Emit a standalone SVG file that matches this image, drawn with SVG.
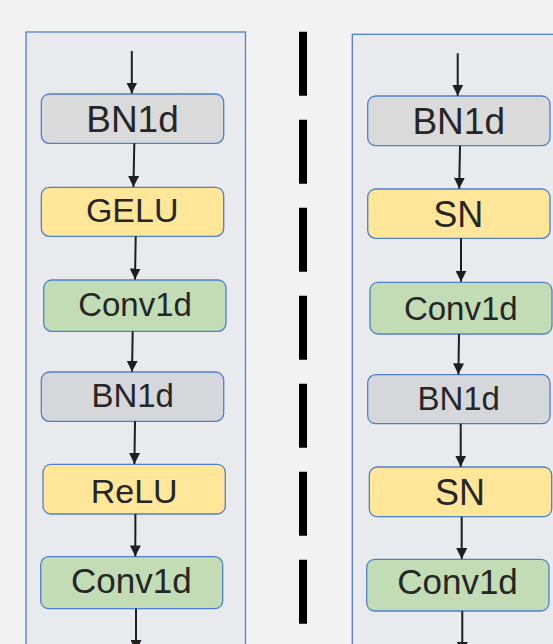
<svg xmlns="http://www.w3.org/2000/svg" width="553" height="644" viewBox="0 0 553 644">
  <style>
    .panel { fill: #e9eaee; stroke: #4f7fcf; stroke-width: 1.3; }
    .node rect { stroke: #4f7fcf; stroke-width: 1.3; }
    .bn rect { fill: #dadada; }
    .bn2 rect { fill: #d5d7db; }
    .act rect { fill: #ffe699; }
    .conv rect { fill: #c2ddb6; }
    .node text { font-family: "Liberation Sans", Arial, sans-serif; fill: #262626; text-anchor: middle; }
    .edge { stroke: #1e1e1e; stroke-width: 2; fill: none; marker-end: url(#head); }
    .divider { stroke: #000; stroke-width: 8; stroke-dasharray: 64 24; }
  </style>
  <defs>
    <marker id="head" markerUnits="userSpaceOnUse" markerWidth="11" markerHeight="11" refX="11" refY="5.5" orient="auto">
      <path d="M0,0 L11,5.5 L0,11 Z" fill="#1e1e1e"/>
    </marker>
  </defs>

  <rect width="553" height="644" fill="#f2f2f2"/>

  <!-- two block panels -->
  <rect class="panel" x="26" y="32" width="219.5" height="640"/>
  <rect class="panel" x="352.3" y="34.3" width="240" height="640"/>

  <!-- dashed divider -->
  <line class="divider" x1="303" y1="31.7" x2="303" y2="624"/>

  <!-- left column -->
  <g id="l-bn1" class="node bn">
    <rect x="41.3" y="94" width="182.4" height="49.3" rx="8"/>
    <text x="132.5" y="132.3" font-size="37">BN1d</text>
  </g>
  <g id="l-gelu" class="node act">
    <rect x="41.3" y="187.3" width="182.4" height="49" rx="8"/>
    <text x="132.2" y="222.3" font-size="34">GELU</text>
  </g>
  <g id="l-conv1" class="node conv">
    <rect x="43.7" y="280" width="182.3" height="51.3" rx="8"/>
    <text x="135" y="316" font-size="33">Conv1d</text>
  </g>
  <g id="l-bn2" class="node bn2">
    <rect x="41.3" y="372" width="182.4" height="49.3" rx="8"/>
    <text x="132.7" y="406.7" font-size="33">BN1d</text>
  </g>
  <g id="l-relu" class="node act">
    <rect x="43" y="464.3" width="182.3" height="49.7" rx="8"/>
    <text x="134.2" y="502.7" font-size="34">ReLU</text>
  </g>
  <g id="l-conv2" class="node conv">
    <rect x="40.7" y="556.7" width="182" height="52" rx="8"/>
    <text x="131.3" y="592.7" font-size="35">Conv1d</text>
  </g>

  <!-- right column -->
  <g id="r-bn1" class="node bn">
    <rect x="367.7" y="96" width="182.3" height="49.7" rx="8"/>
    <text x="458.7" y="134" font-size="37">BN1d</text>
  </g>
  <g id="r-sn1" class="node act">
    <rect x="367.7" y="189" width="182.3" height="49.3" rx="8"/>
    <text x="458.3" y="227.3" font-size="36">SN</text>
  </g>
  <g id="r-conv1" class="node conv">
    <rect x="370" y="282.3" width="182" height="51.7" rx="8"/>
    <text x="460.8" y="320" font-size="33">Conv1d</text>
  </g>
  <g id="r-bn2" class="node bn2">
    <rect x="367.7" y="374.7" width="182.3" height="49" rx="8"/>
    <text x="458.7" y="410" font-size="33">BN1d</text>
  </g>
  <g id="r-sn2" class="node act">
    <rect x="369.3" y="467" width="182.4" height="49.7" rx="8"/>
    <text x="460" y="505" font-size="36">SN</text>
  </g>
  <g id="r-conv2" class="node conv">
    <rect x="366.7" y="559.3" width="182.3" height="51.7" rx="8"/>
    <text x="457.5" y="594.3" font-size="35">Conv1d</text>
  </g>

  <!-- connectors -->
  <g id="connectors">
    <line class="edge" x1="131.8" y1="51" x2="131.8" y2="93.5"/>
    <line class="edge" x1="134.3" y1="143.3" x2="133.4" y2="187"/>
    <line class="edge" x1="135.7" y1="236.3" x2="135" y2="279.5"/>
    <line class="edge" x1="132.7" y1="331.3" x2="132" y2="371.8"/>
    <line class="edge" x1="135" y1="421.3" x2="134.4" y2="464"/>
    <line class="edge" x1="135.4" y1="514" x2="135.3" y2="556.4"/>
    <line class="edge" x1="136" y1="608.7" x2="136" y2="651"/>

    <line class="edge" x1="457.7" y1="53.3" x2="457.7" y2="95.8"/>
    <line class="edge" x1="460" y1="145.7" x2="459.2" y2="188.6"/>
    <line class="edge" x1="461" y1="238.3" x2="461" y2="281.8"/>
    <line class="edge" x1="459" y1="334" x2="458.4" y2="374.4"/>
    <line class="edge" x1="460.7" y1="423.7" x2="460.7" y2="466.7"/>
    <line class="edge" x1="461.7" y1="516.7" x2="461.7" y2="559"/>
    <line class="edge" x1="462.3" y1="611" x2="462.3" y2="653"/>
  </g>
</svg>
